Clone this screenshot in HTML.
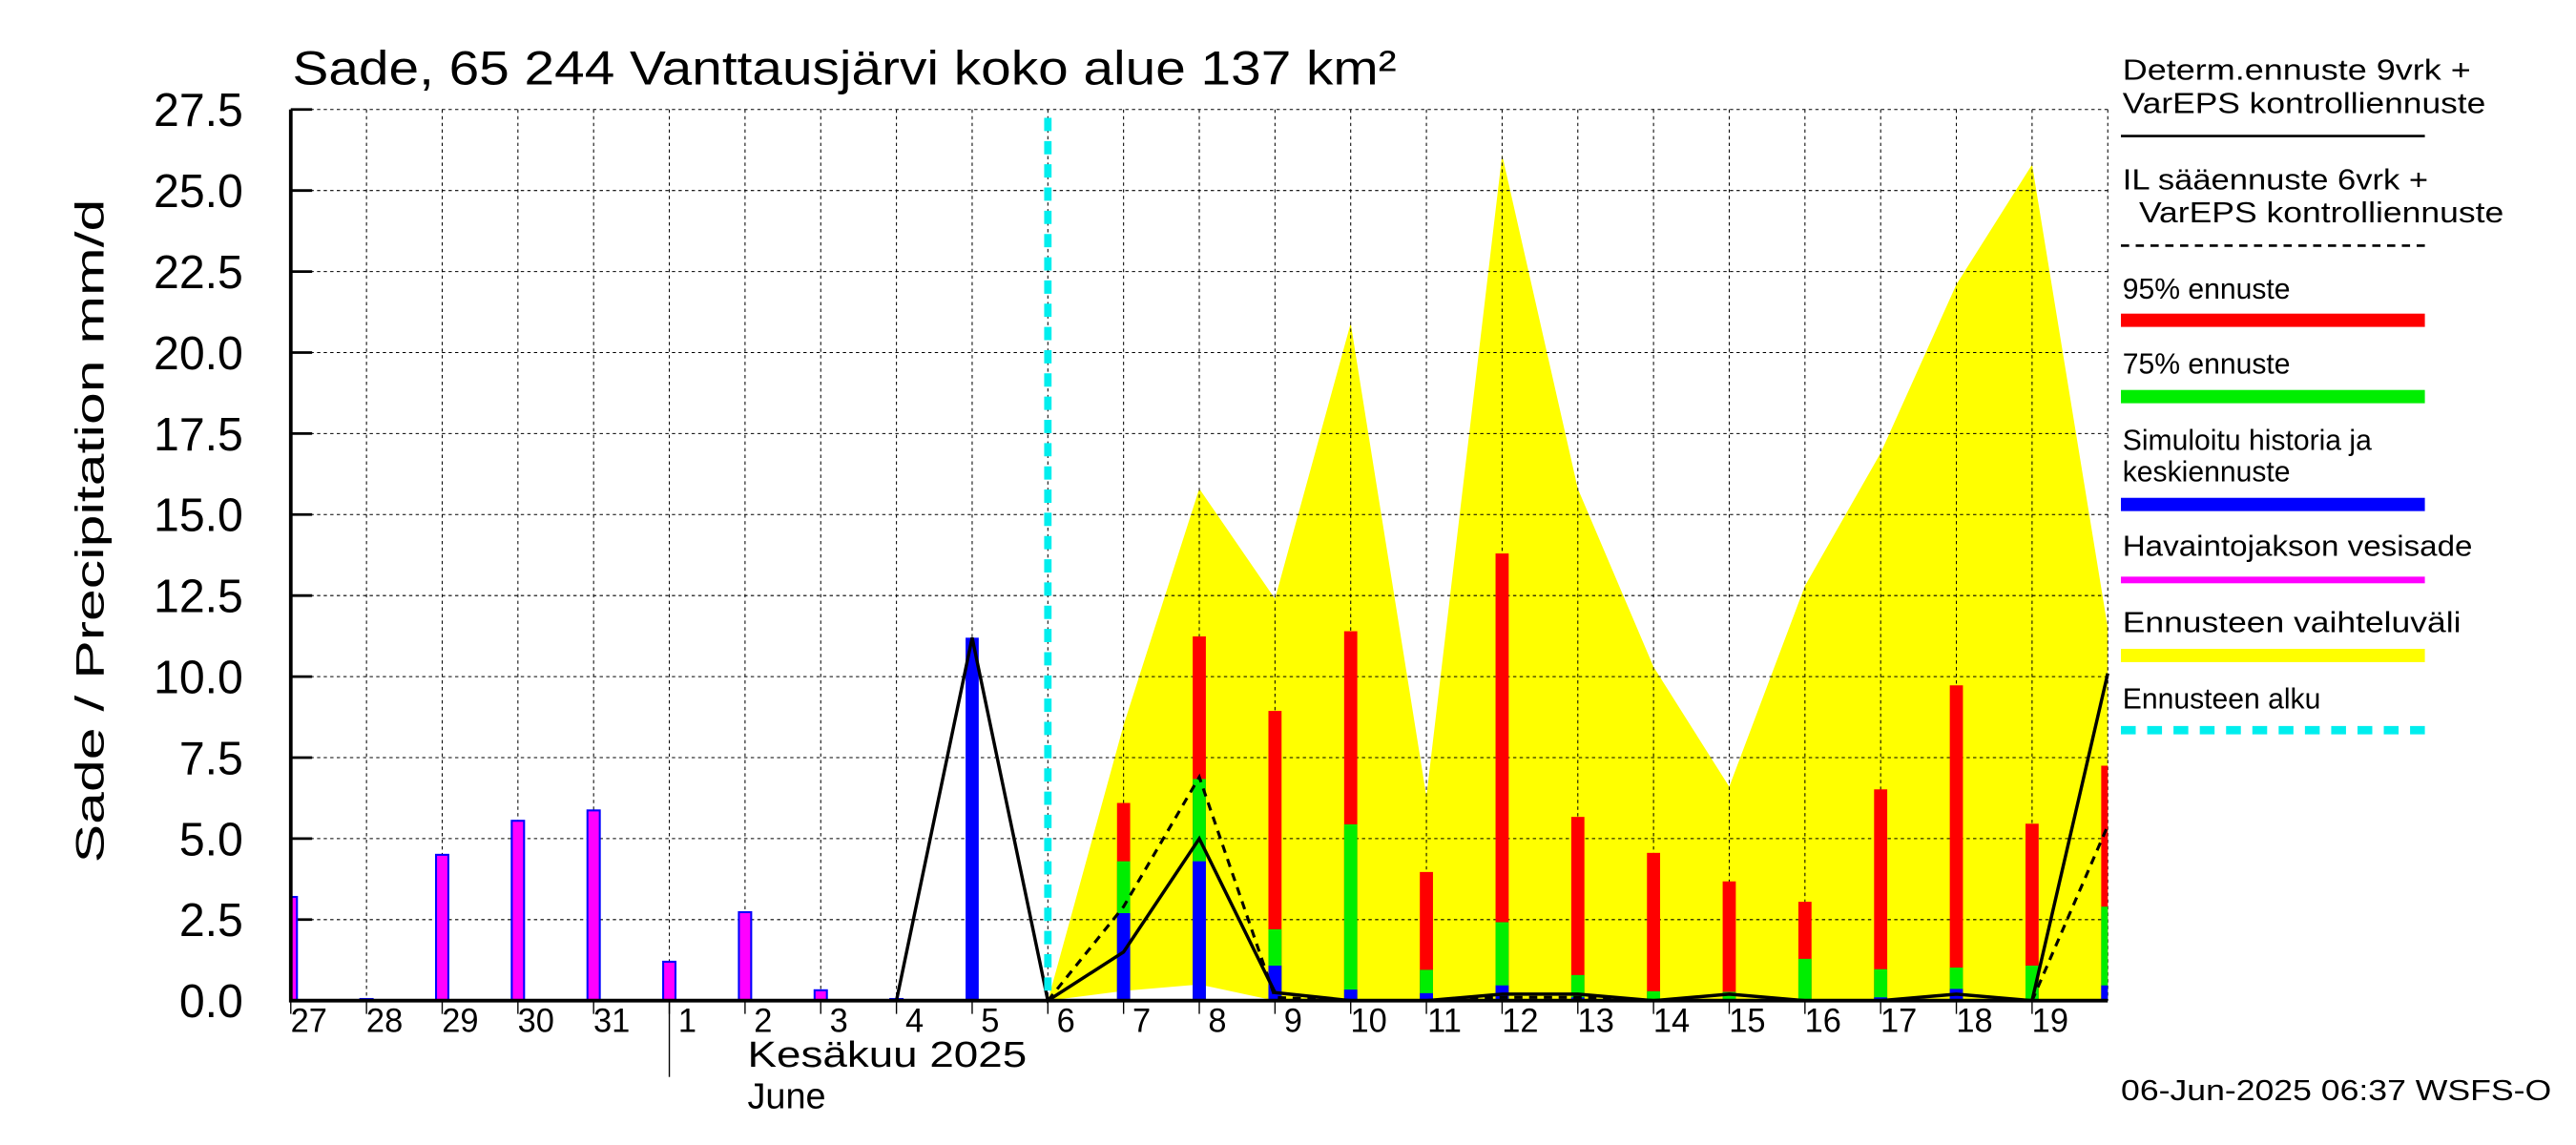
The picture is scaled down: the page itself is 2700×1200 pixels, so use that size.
<!DOCTYPE html>
<html><head><meta charset="utf-8"><style>html,body{margin:0;padding:0;background:#fff}svg{display:block}</style></head>
<body>
<svg id="chart" width="2700" height="1200" viewBox="0 0 1568 690" preserveAspectRatio="none" xmlns="http://www.w3.org/2000/svg" font-family="Liberation Sans, sans-serif">
<text x="178" y="51" font-size="29" textLength="672" lengthAdjust="spacingAndGlyphs">Sade, 65 244 Vanttausjärvi koko alue 137 km²</text>
<text transform="translate(63,320) rotate(-90)" text-anchor="middle" font-size="24" textLength="400" lengthAdjust="spacingAndGlyphs">Sade / Precipitation   mm/d</text>
<g id="plot"></g>
<g id="legend">
<text x="1292" y="48" font-size="17.5" textLength="212" lengthAdjust="spacingAndGlyphs">Determ.ennuste 9vrk +</text>
<text x="1292" y="68" font-size="17.5" textLength="221" lengthAdjust="spacingAndGlyphs">VarEPS kontrolliennuste</text>
<line x1="1291" y1="82" x2="1476" y2="82" stroke="#000" stroke-width="1.5"/>
<text x="1292" y="114" font-size="17.5" textLength="186" lengthAdjust="spacingAndGlyphs">IL sääennuste 6vrk  +</text>
<text x="1302" y="134" font-size="17.5" textLength="222" lengthAdjust="spacingAndGlyphs">VarEPS kontrolliennuste</text>
<line x1="1291" y1="148" x2="1476" y2="148" stroke="#000" stroke-width="1.5" stroke-dasharray="5,4"/>
<text x="1292" y="180" font-size="17.5">95% ennuste</text>
<rect x="1291" y="189" width="185" height="8" fill="#ff0000"/>
<text x="1292" y="225" font-size="17.5">75% ennuste</text>
<rect x="1291" y="235" width="185" height="8" fill="#00ee00"/>
<text x="1292" y="271" font-size="17.5">Simuloitu historia ja</text>
<text x="1292" y="290" font-size="17.5">keskiennuste</text>
<rect x="1291" y="300" width="185" height="8" fill="#0000ff"/>
<text x="1292" y="335" font-size="17.5" textLength="213" lengthAdjust="spacingAndGlyphs">Havaintojakson vesisade</text>
<rect x="1291" y="347.5" width="185" height="4" fill="#ff00ff"/>
<text x="1292" y="381" font-size="17.5" textLength="206" lengthAdjust="spacingAndGlyphs">Ennusteen vaihteluväli</text>
<rect x="1291" y="391" width="185" height="8" fill="#ffff00"/>
<text x="1292" y="427" font-size="17.5">Ennusteen alku</text>
<line x1="1291" y1="440" x2="1476" y2="440" stroke="#00eeee" stroke-width="5" stroke-dasharray="9,7"/>
</g>
<text x="1291" y="663" font-size="17.5" textLength="262" lengthAdjust="spacingAndGlyphs">06-Jun-2025 06:37 WSFS-O</text>
<text x="455" y="643" font-size="22" textLength="170" lengthAdjust="spacingAndGlyphs">Kesäkuu   2025</text>
<text x="455" y="668" font-size="22">June</text>
</svg>
<script>
const dayLabels = ["27","28","29","30","31","1","2","3","4","5","6","7","8","9","10","11","12","13","14","15","16","17","18","19"];
const yTicks = [0,2.5,5,7.5,10,12.5,15,17.5,20,22.5,25,27.5];
const obsIdx = [0,1,2,3,4,5,6,7,8];
const obsVals = [3.2,0.05,4.5,5.55,5.87,1.2,2.73,0.32,0.05];
const simIdx = [9];
const simVals = [11.2];
const fcIdx = [11,12,13,14,15,16,17,18,19,20,21,22,23,24];
const fc95 = [6.1,11.24,8.94,11.4,3.97,13.8,5.67,4.56,3.68,3.05,6.52,9.73,5.46,7.25];
const fc75 = [4.3,6.84,2.2,5.44,0.95,2.42,0.79,0.29,0.27,1.29,0.97,1.02,1.08,2.9];
const fcMid = [2.7,4.3,1.08,0.34,0.23,0.47,0.1,0,0,0,0.1,0.36,0.05,0.47];
const envIdx = [10,11,12,13,14,15,16,17,18,19,20,21,22,23,24];
const envHigh = [0,8.5,15.8,12.4,20.9,6.3,26.1,15.8,10.3,6.6,12.8,16.9,22.1,25.8,11.5];
const envLow = [0,0.3,0.5,0,0,0,0,0,0,0,0,0,0,0,0];
const detIdx = [8,9,10,11,12,13,14,15,16,17,18,19,20,21,22,23,24];
const detVals = [0,11.2,0,1.5,5.0,0.25,0,0,0.2,0.2,0,0.2,0,0,0.2,0,10.1];
const ilIdx = [10,11,12,13,14,15,16,17,18,19,20,21,22,23,24];
const ilVals = [0,2.9,6.9,0.1,0,0,0.1,0.1,0,0,0,0,0,0,5.4];
const forecastStart = 10;

const L=177,R=1283,T=66,B=603,YMAX=27.5,DAYW=(R-L)/24;
const X=i=>L+i*DAYW;
const Y=v=>B-(v/YMAX)*(B-T);
const NS="http://www.w3.org/2000/svg";
const plot=document.getElementById('plot');
function mk(tag,attrs,parent){const e=document.createElementNS(NS,tag);for(const k in attrs)e.setAttribute(k,attrs[k]);(parent||plot).appendChild(e);return e;}
const defs=mk('defs',{});
const cp=mk('clipPath',{id:'clip'},defs);mk('rect',{x:L,y:T-5,width:R-L,height:B-T+5},cp);

let pts=envIdx.map((d,i)=>X(d)+','+Y(envHigh[i]));
for(let i=envIdx.length-1;i>=0;i--)pts.push(X(envIdx[i])+','+Y(envLow[i]));
const env=mk('polygon',{points:pts.join(' '),fill:'#ffff00'});



yTicks.forEach(v=>{
  if(v>0){const g=mk('line',{x1:L,x2:R,y1:Y(v),y2:Y(v),stroke:'#000','stroke-width':0.6,'stroke-dasharray':'2,2'});
  }
  const t=mk('line',{x1:L,x2:L+13,y1:Y(v),y2:Y(v),stroke:'#000','stroke-width':1.6});
  
  const lb=mk('text',{x:148,y:Y(v)+10,'text-anchor':'end','font-size':28});
  lb.textContent=v.toFixed(1);
  
});
for(let i=1;i<=24;i++){
  const g=mk('line',{x1:X(i),x2:X(i),y1:T,y2:B,stroke:'#000','stroke-width':0.6,'stroke-dasharray':'2,2'});
  
}
dayLabels.forEach((d,i)=>{
  const tk=mk('line',{x1:X(i),x2:X(i),y1:B,y2:B+8,stroke:'#000','stroke-width':0.8});
  
  const t=mk('text',{x:X(i)+11,y:622,'text-anchor':'middle','font-size':20});
  t.textContent=d;
  
});
const mt=mk('line',{x1:X(5),x2:X(5),y1:B,y2:649,stroke:'#000','stroke-width':0.8});


const BW=7.5;
obsIdx.forEach((d,i)=>{
  const r=mk('rect',{x:X(d)-BW/2,y:Y(obsVals[i]),width:BW,height:B-Y(obsVals[i]),fill:'#ff00ff',stroke:'#0000ff','stroke-width':1.2,'clip-path':'url(#clip)'});
  
});
simIdx.forEach((d,i)=>{
  const r=mk('rect',{x:X(d)-4,y:Y(simVals[i]),width:8,height:B-Y(simVals[i]),fill:'#0000ff'});
  
});
fcIdx.forEach((d,i)=>{
  [[fc95[i],'#ff0000','bar-95'],[fc75[i],'#00ee00','bar-75'],[fcMid[i],'#0000ff','bar-median']].forEach(([v,c,n])=>{
    if(v<=0)return;
    const r=mk('rect',{x:X(d)-4,y:Y(v),width:8,height:B-Y(v),fill:c,'clip-path':'url(#clip)'});
    
  });
});
const det=mk('polyline',{points:detIdx.map((d,i)=>X(d)+','+Y(detVals[i])).join(' '),fill:'none',stroke:'#000','stroke-width':2});

const il=mk('polyline',{points:ilIdx.map((d,i)=>X(d)+','+Y(ilVals[i])).join(' '),fill:'none',stroke:'#000','stroke-width':1.8,'stroke-dasharray':'5,4'});

const fs=mk('line',{x1:X(forecastStart),x2:X(forecastStart),y1:T+5,y2:B,stroke:'#00eeee','stroke-width':4.5,'stroke-dasharray':'8,6'});

const ax=mk('polyline',{points:`${L},${T} ${L},${B} ${R},${B}`,fill:'none',stroke:'#000','stroke-width':2.2});

</script>
</body></html>
